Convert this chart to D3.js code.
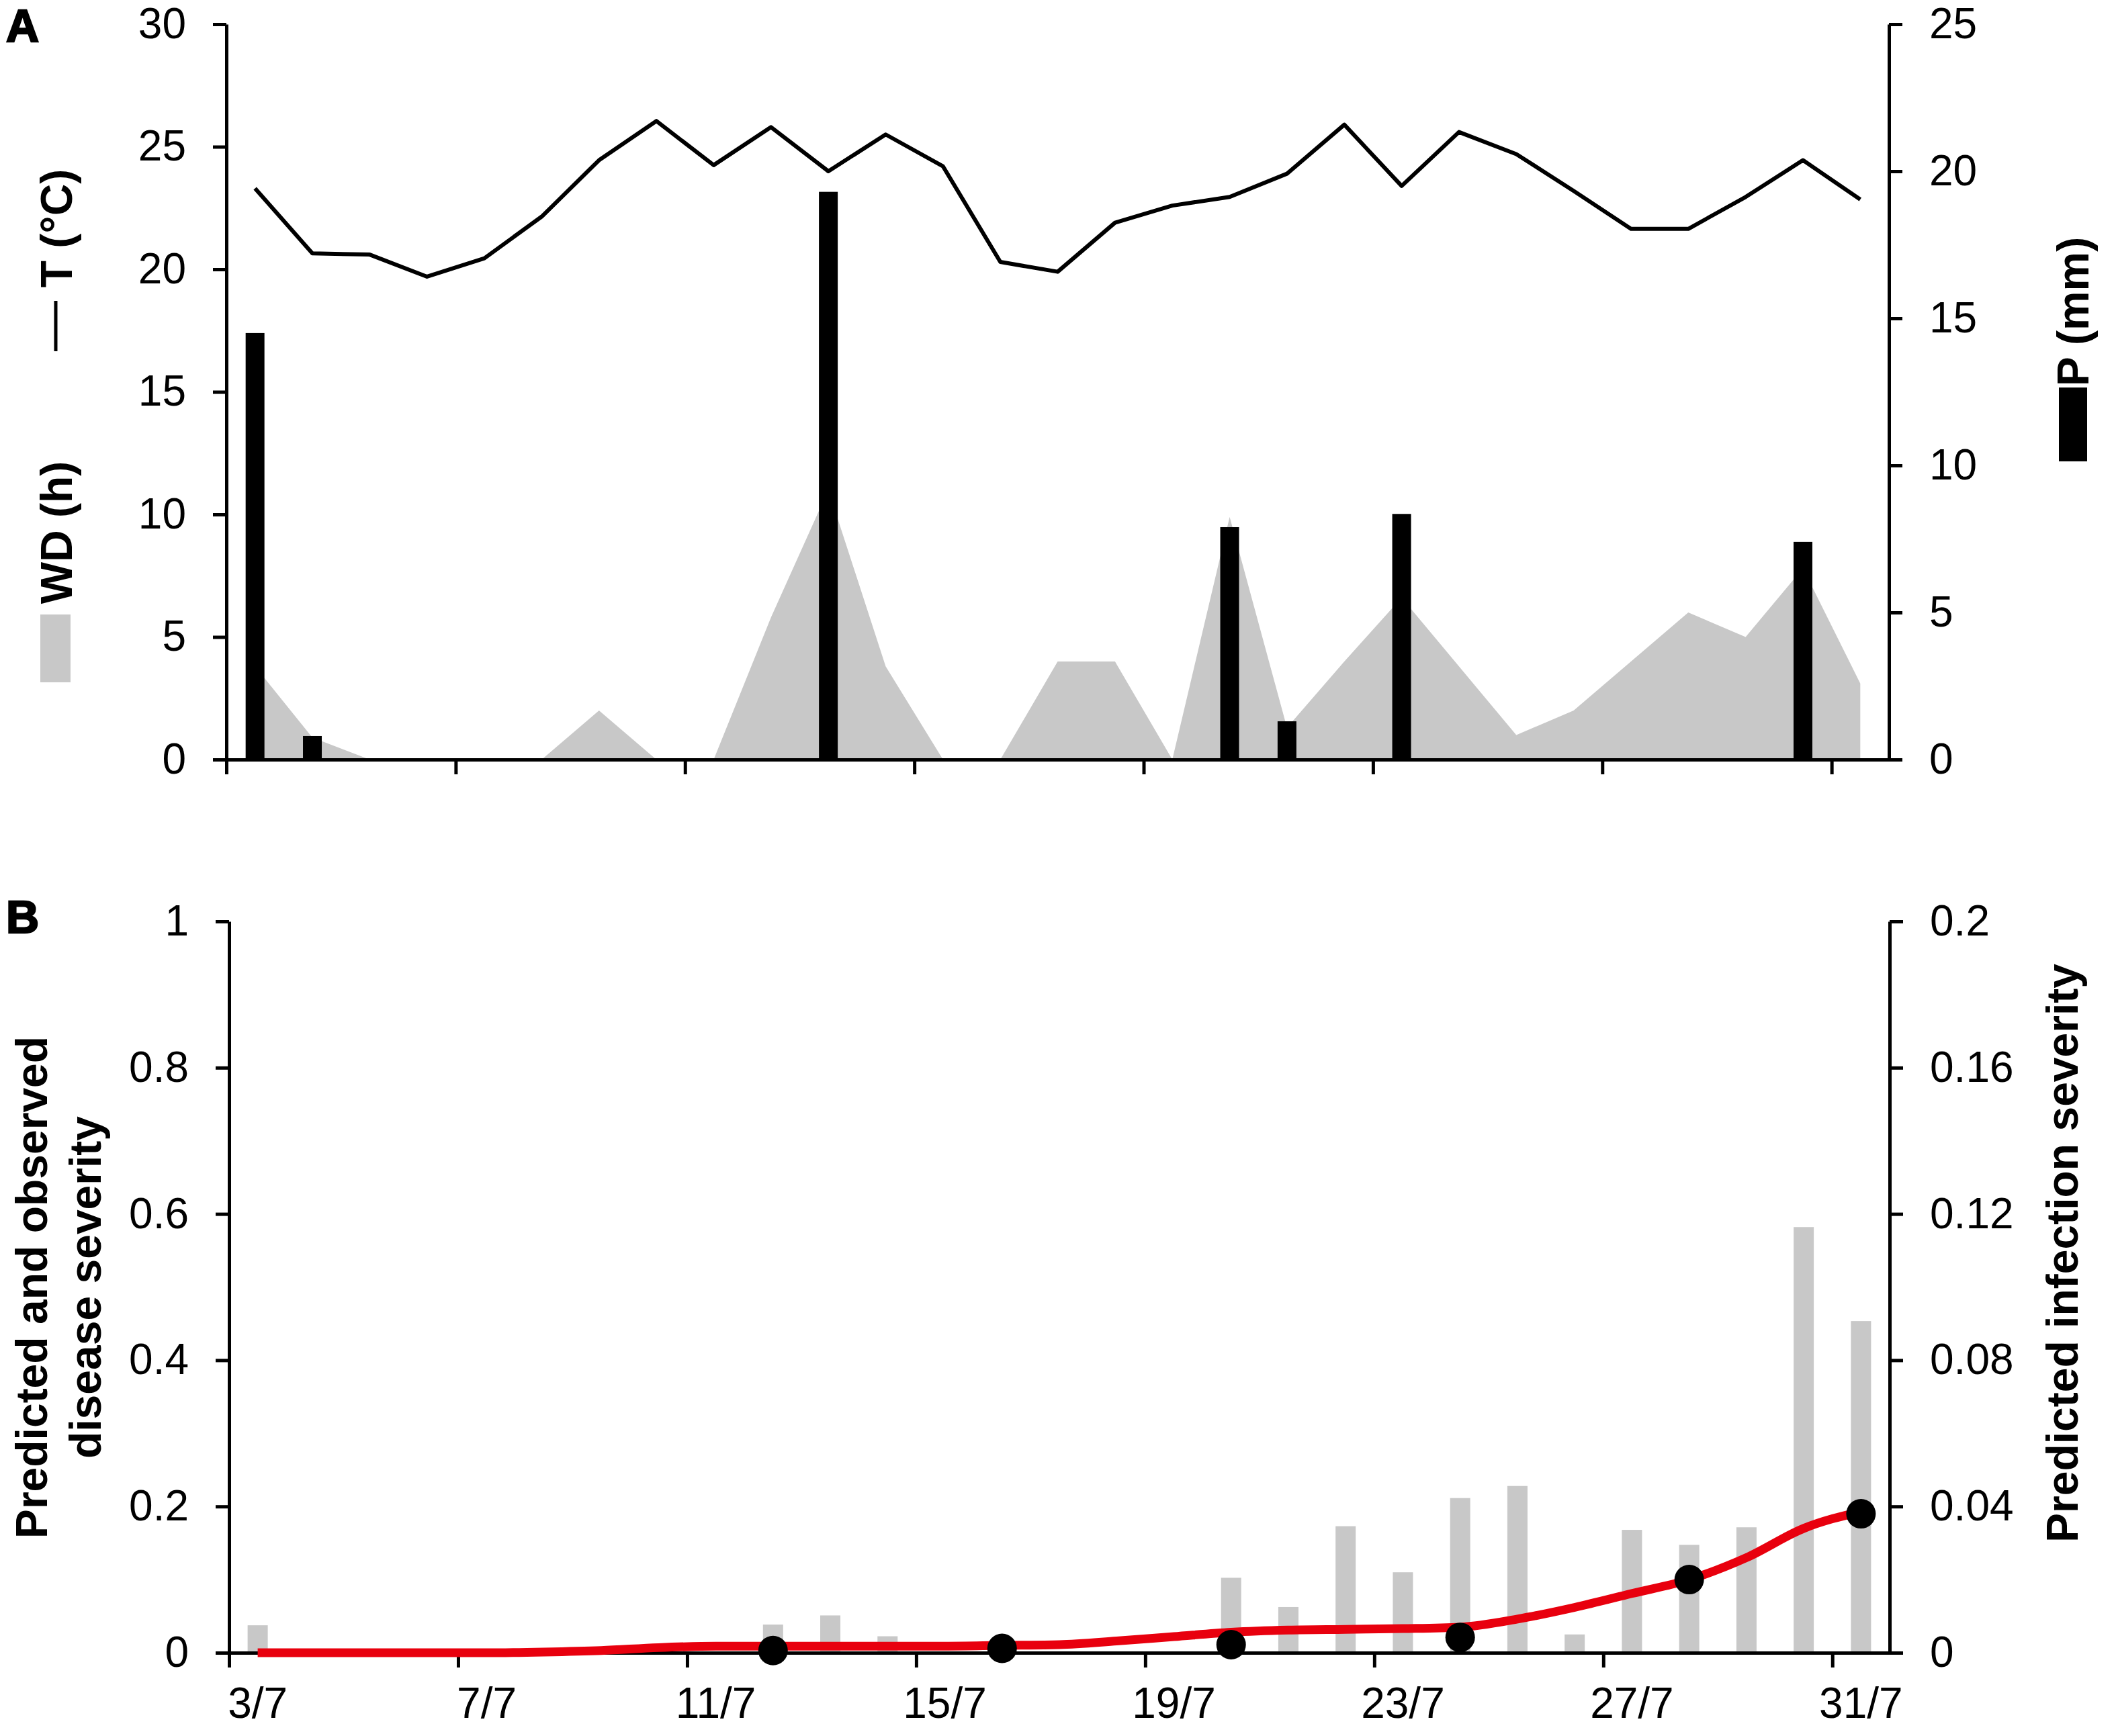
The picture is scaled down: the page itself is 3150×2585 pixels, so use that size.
<!DOCTYPE html>
<html>
<head>
<meta charset="utf-8">
<script src="https://cdn.jsdelivr.net/npm/d3@7"></script>
<style>
  body { margin: 0; background: #fff; }
  text { font-family: "Liberation Sans", Arial, Helvetica, sans-serif; }
</style>
</head>
<body>
<script>
// dates 3/7 .. 31/7
const dates = d3.range(3, 32).map(d => d + "/7");

// panel A: mean temperature (°C), rain (mm), wetness duration (h)
const temperature = [23.3, 20.65, 20.6, 19.7, 20.45, 22.15, 24.45, 26.05, 24.25, 25.8,
                     24.0, 25.5, 24.2, 20.3, 19.9, 21.9, 22.6, 22.95, 23.9, 25.9,
                     23.4, 25.6, 24.7, 23.2, 21.65, 21.65, 22.95, 24.45, 22.85];
const rain = [14.5, 0.8, 0, 0, 0, 0, 0, 0, 0, 0,
              19.3, 0, 0, 0, 0, 0, 0, 7.9, 1.3, 0,
              8.35, 0, 0, 0, 0, 0, 0, 7.4, 0];
const wetness = [3.8, 0.9, 0, 0, 0, 0, 2, 0, 0, 5.8,
                 11, 3.8, 0, 0, 4, 4, 0, 9.9, 1.3, 4.0,
                 6.6, 3.8, 1.0, 2.0, 4.0, 6.0, 5.0, 7.8, 3.1];

// panel B: predicted infection severity (bars), predicted disease severity (line), observed (dots)
const infection = [0.0075, 0, 0, 0, 0, 0, 0, 0, 0, 0.0077,
                   0.0102, 0.0045, 0, 0, 0, 0, 0, 0.0205, 0.0125, 0.0346,
                   0.022, 0.0423, 0.0456, 0.005, 0.0336, 0.0295, 0.0343, 0.1164, 0.0907];
const predicted = [0, 0, 0, 0, 0, 0.001, 0.003, 0.007, 0.009, 0.009,
                   0.009, 0.009, 0.009, 0.01, 0.011, 0.016, 0.022, 0.028, 0.031, 0.032,
                   0.033, 0.035, 0.046, 0.062, 0.081, 0.1, 0.13, 0.17, 0.193];
const observedDates = ["12/7", "16/7", "20/7", "24/7", "28/7", "31/7"];
const observed = [0.003, 0.006, 0.011, 0.021, 0.1, 0.19];

const tempTicks = [0, 5, 10, 15, 20, 25, 30];
const rainTicks = [0, 5, 10, 15, 20, 25];
const sevTicks = [0, 0.2, 0.4, 0.6, 0.8, 1];
const infTicks = [0, 0.04, 0.08, 0.12, 0.16, 0.2];

const W = 3150, H = 2585;
const GRAY = "#c8c8c8";
const RED = "#e8000e";

const svg = d3.select("body").append("svg")
    .attr("width", W)
    .attr("height", H);
svg.append("rect").attr("width", W).attr("height", H).attr("fill", "#fff");

function styleAxis(g){
    g.selectAll("path, line").attr("stroke", "#000").attr("stroke-width", 5);
    g.selectAll("text").attr("font-size", 64).attr("fill", "#000")
        .attr("font-family", "'Liberation Sans', Arial, sans-serif");
}

function boldText(parent, txt, x, y, rotate){
    return parent.append("text")
        .attr("transform", `translate(${x},${y})` + (rotate ? " rotate(-90)" : ""))
        .attr("text-anchor", rotate ? "middle" : "start")
        .attr("font-size", 66)
        .attr("font-weight", "bold")
        .text(txt);
}

// ---------------- panel A ----------------
const aL = 337, aR = 2812, aTop = 36, aBot = 1131;
const xA = d3.scaleBand().domain(dates).range([aL, aR]);
const xAi = d3.scaleLinear().domain([0, dates.length]).range([aL, aR]);
const yT = d3.scaleLinear().domain([0, 30]).range([aBot, aTop]);
const yP = d3.scaleLinear().domain([0, 25]).range([aBot, aTop]);
const cA = d => xA(d) + xA.bandwidth() / 2;

const gA = svg.append("g");

// wetness area
const area = d3.area()
    .x((d, i) => cA(dates[i]))
    .y0(yT(0))
    .y1(d => yT(d));
gA.append("path").datum(wetness).attr("d", area).attr("fill", GRAY);

// rain bars
const rainData = dates.map((d, i) => ({date: d, v: rain[i]})).filter(d => d.v > 0);
gA.selectAll("rect.rain").data(rainData).join("rect")
    .attr("class", "rain")
    .attr("x", d => cA(d.date) - 14)
    .attr("width", 28)
    .attr("y", d => yP(d.v))
    .attr("height", d => yP(0) - yP(d.v))
    .attr("fill", "#000");

// temperature line
const line = d3.line().x((d, i) => cA(dates[i])).y(d => yT(d));
gA.append("path").datum(temperature)
    .attr("d", line)
    .attr("fill", "none")
    .attr("stroke", "#000")
    .attr("stroke-width", 6)
    .attr("stroke-linejoin", "round");

// axes
gA.append("g").attr("transform", `translate(${aL},0)`)
    .call(d3.axisLeft(yT).tickValues(tempTicks).tickSize(20).tickSizeOuter(0).tickPadding(40))
    .call(styleAxis);
gA.append("g").attr("transform", `translate(${aR},0)`)
    .call(d3.axisRight(yP).tickValues(rainTicks).tickSize(20).tickSizeOuter(0).tickPadding(40))
    .call(styleAxis);
gA.append("g").attr("transform", `translate(0,${aBot})`)
    .call(d3.axisBottom(xAi).tickValues(d3.range(0, 29, 4)).tickSize(22).tickSizeOuter(0).tickFormat(""))
    .call(styleAxis);

// panel A titles and legend keys
boldText(svg, "A", 9, 62, false).attr("font-size", 68)
    .attr("stroke", "#000").attr("stroke-width", 2.5);
gA.append("line").attr("x1", 83).attr("x2", 83).attr("y1", 448).attr("y2", 523)
    .attr("stroke", "#000").attr("stroke-width", 5);
boldText(gA, "T (°C)", 107, 340, true);
boldText(gA, "WD (h)", 107, 793, true);
gA.append("rect").attr("x", 60).attr("y", 915).attr("width", 45).attr("height", 101).attr("fill", GRAY);
boldText(gA, "P (mm)", 3109, 464, true);
gA.append("rect").attr("x", 3065).attr("y", 577).attr("width", 42).attr("height", 110).attr("fill", "#000");

// ---------------- panel B ----------------
const bL = 341, bR = 2813, bTop = 1372, bBot = 2461;
const xB = d3.scaleBand().domain(dates).range([bL, bR]);
const xBi = d3.scaleLinear().domain([0, dates.length]).range([bL, bR]);
const yS = d3.scaleLinear().domain([0, 1]).range([bBot, bTop]);
const yI = d3.scaleLinear().domain([0, 0.2]).range([bBot, bTop]);
const cB = d => xB(d) + xB.bandwidth() / 2;

const gB = svg.append("g");

// infection bars
const infData = dates.map((d, i) => ({date: d, v: infection[i]})).filter(d => d.v > 0);
gB.selectAll("rect.inf").data(infData).join("rect")
    .attr("class", "inf")
    .attr("x", d => cB(d.date) - 15)
    .attr("width", 30)
    .attr("y", d => yI(d.v))
    .attr("height", d => yI(0) - yI(d.v))
    .attr("fill", GRAY);

// axes
gB.append("g").attr("transform", `translate(${bL},0)`)
    .call(d3.axisLeft(yS).tickValues(sevTicks).tickSize(20).tickSizeOuter(0).tickPadding(40)
        .tickFormat(d3.format("~g")))
    .call(styleAxis);
gB.append("g").attr("transform", `translate(${bR},0)`)
    .call(d3.axisRight(yI).tickValues(infTicks).tickSize(20).tickSizeOuter(0).tickPadding(40)
        .tickFormat(d3.format("~g")))
    .call(styleAxis);
gB.append("g").attr("transform", `translate(0,${bBot})`)
    .call(d3.axisBottom(xBi).tickValues(d3.range(0, 29, 4)).tickSize(22).tickSizeOuter(0).tickFormat(""))
    .call(styleAxis);
gB.append("g").attr("transform", `translate(0,${bBot})`)
    .call(d3.axisBottom(xB).tickValues(dates.filter((d, i) => i % 4 === 0)).tickSize(0).tickPadding(52))
    .call(styleAxis)
    .call(g => g.select(".domain").remove());

// predicted disease severity
const sevLine = d3.line()
    .x((d, i) => cB(dates[i]))
    .y(d => yS(d))
    .curve(d3.curveMonotoneX);
gB.append("path").datum(predicted)
    .attr("d", sevLine)
    .attr("fill", "none")
    .attr("stroke", RED)
    .attr("stroke-width", 13)
    .attr("stroke-linecap", "butt");

// observed
gB.selectAll("circle.obs").data(observedDates).join("circle")
    .attr("class", "obs")
    .attr("cx", d => cB(d))
    .attr("cy", (d, i) => yS(observed[i]))
    .attr("r", 22)
    .attr("fill", "#000");

// panel B titles
boldText(svg, "B", 9, 1389, false).attr("font-size", 68)
    .attr("stroke", "#000").attr("stroke-width", 2.5);
boldText(gB, "Predicted and observed", 70, 1917, true);
boldText(gB, "disease severity", 150, 1917, true);
boldText(gB, "Predicted infection severity", 3093, 1866, true);
</script>
</body>
</html>
